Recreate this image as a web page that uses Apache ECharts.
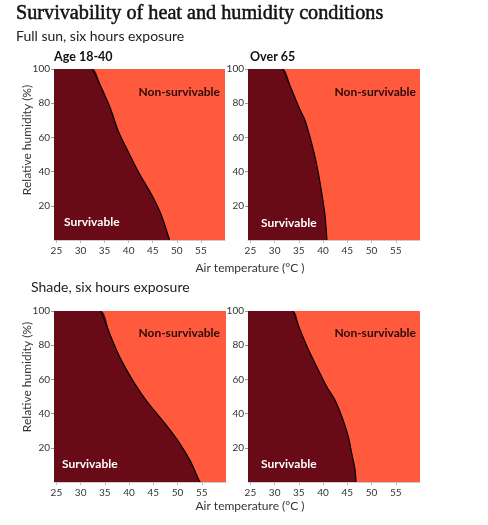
<!DOCTYPE html>
<html>
<head>
    <meta charset="UTF-8">
    <title>Survivability of heat and humidity conditions</title>
    <script src="https://cdn.jsdelivr.net/npm/echarts@6.0.0/dist/echarts.min.js"></script>
    <style>
        html, body { margin: 0; padding: 0; background: #fff; }
        #chart { width: 488px; height: 525px; }
    </style>
</head>
<body>
<div id="chart"></div>
<script type="text/javascript">
    // tick labels
    var tempTicks = [25, 30, 35, 40, 45, 50, 55];
    var humidityTicks = [20, 40, 60, 80, 100];

    // survivability limits: air temperature (°C) vs relative humidity (%)
    var sunYoungTemp = [24.5, 32.5, 34.4, 36.2, 37.9, 39.9, 42.0, 44.8, 46.5, 47.5, 48.5];
    var sunYoungRH = [100, 100, 88.7, 77, 63.3, 51.6, 39.9, 26.3, 16.5, 8.8, 0];

    var sunOldTemp = [24.5, 31.7, 33.5, 35.2, 36.2, 37.25, 38.3, 39.0, 39.7, 40.4, 40.8];
    var sunOldRH = [100, 100, 88, 76.3, 70.5, 60.7, 49.1, 39.4, 27.8, 14.2, 0];

    var shadeYoungTemp = [24.5, 34.2, 36.1, 38.2, 40.9, 43.7, 47.1, 50.2, 52.7, 54.4, 54.7];
    var shadeYoungRH = [100, 100, 86, 72.3, 58.7, 47, 35.3, 23.6, 11.9, 1.2, 0];

    var shadeOldTemp = [24.5, 33.8, 35.2, 37.25, 39.3, 40.7, 42.4, 44.1, 45.2, 45.9, 46.6, 46.8];
    var shadeOldRH = [100, 100, 89.4, 75.7, 63.9, 56, 48.2, 36.5, 26.6, 16.9, 7.1, 0];

    var panels = [
        {temp: sunYoungTemp, rh: sunYoungRH},
        {temp: sunOldTemp, rh: sunOldRH},
        {temp: shadeYoungTemp, rh: shadeYoungRH},
        {temp: shadeOldTemp, rh: shadeOldRH}
    ];

    var DARK = '#690a17';
    var LIGHT = '#ff5a3e';
    var FONT = 'Lato';

    var gridPos = [
        {left: 54, top: 69, width: 171, height: 171},
        {left: 248, top: 69, width: 172, height: 171},
        {left: 54, top: 311, width: 172, height: 171},
        {left: 248, top: 311, width: 172, height: 171}
    ];

    var grids = [], xAxes = [], yAxes = [], series = [];
    for (var i = 0; i < panels.length; i++) {
        grids.push({
            left: gridPos[i].left, top: gridPos[i].top,
            width: gridPos[i].width, height: gridPos[i].height,
            show: true, backgroundColor: LIGHT, borderWidth: 0
        });
        xAxes.push({
            type: 'value', gridIndex: i, min: 24.5, max: 60,
            axisLine: {show: true, lineStyle: {color: '#ccc'}},
            axisTick: {show: true, customValues: tempTicks, length: 3, lineStyle: {color: '#bbb'}},
            splitLine: {show: false},
            axisLabel: {customValues: tempTicks, color: '#333', fontSize: 10, fontFamily: FONT, margin: 6}
        });
        yAxes.push({
            type: 'value', gridIndex: i, min: 0, max: 100,
            axisLine: {show: true, lineStyle: {color: '#ccc'}},
            axisTick: {show: true, customValues: humidityTicks, length: 3, lineStyle: {color: '#999'}},
            splitLine: {show: false},
            axisLabel: {customValues: humidityTicks, color: '#333', fontSize: 10, fontFamily: FONT, margin: 4}
        });

        var pts = [];
        for (var j = 0; j < panels[i].temp.length; j++) {
            pts.push([panels[i].temp[j], panels[i].rh[j]]);
        }
        series.push({
            type: 'line', xAxisIndex: i, yAxisIndex: i,
            data: pts, symbol: 'none', smooth: 0.25, z: 2,
            lineStyle: {width: 0},
            areaStyle: {color: DARK, opacity: 1}
        });
        series.push({
            type: 'line', xAxisIndex: i, yAxisIndex: i,
            data: pts.slice(1), symbol: 'none', smooth: 0.25, z: 3,
            lineStyle: {width: 1.2, color: '#000'}
        });
    }

    function txt(x, y, s, style) {
        var st = {text: s, fontFamily: FONT, fontSize: 12, fill: '#222'};
        for (var k in style) st[k] = style[k];
        return {type: 'text', x: x, y: y, style: st, z: 10};
    }

    var graphics = [
        txt(16, 4, 'Survivability of heat and humidity conditions',
            {fontFamily: 'Liberation Serif', fontSize: 20.2, fill: '#121212', stroke: '#121212', lineWidth: 0.5}),
        txt(16, 29, 'Full sun, six hours exposure', {fontSize: 14, fill: '#222'}),
        txt(54, 50, 'Age 18-40', {fontSize: 12.5, fontWeight: 'bold', fill: '#121212'}),
        txt(250, 50, 'Over 65', {fontSize: 12.5, fontWeight: 'bold', fill: '#121212'}),
        txt(31, 280, 'Shade, six hours exposure', {fontSize: 14, fill: '#222'}),
        txt(250, 268, 'Air temperature (°C )', {fontSize: 12, fill: '#333', align: 'center', verticalAlign: 'middle'}),
        txt(250, 506, 'Air temperature (°C )', {fontSize: 12, fill: '#333', align: 'center', verticalAlign: 'middle'})
    ];
    var yTitleCenters = [140, 377];
    for (var m = 0; m < yTitleCenters.length; m++) {
        graphics.push({
            type: 'text', x: 27, y: yTitleCenters[m], rotation: Math.PI / 2, z: 10,
            style: {text: 'Relative humidity (%)', fontFamily: FONT, fontSize: 12, fill: '#333',
                align: 'center', verticalAlign: 'middle'}
        });
    }
    var regionPos = [[220, 92, 64, 222], [416, 92, 261, 223], [220, 333, 62, 464], [416, 333, 261, 464]];
    for (var r = 0; r < regionPos.length; r++) {
        graphics.push(txt(regionPos[r][0], regionPos[r][1], 'Non-survivable',
            {fontWeight: 'bold', fill: '#2a0a0a', align: 'right', verticalAlign: 'middle'}));
        graphics.push(txt(regionPos[r][2], regionPos[r][3], 'Survivable',
            {fontWeight: 'bold', fill: '#fff', verticalAlign: 'middle'}));
    }

    var chart = echarts.init(document.getElementById('chart'));
    chart.setOption({
        animation: false,
        grid: grids,
        xAxis: xAxes,
        yAxis: yAxes,
        series: series,
        graphic: graphics
    });
</script>
</body>
</html>
